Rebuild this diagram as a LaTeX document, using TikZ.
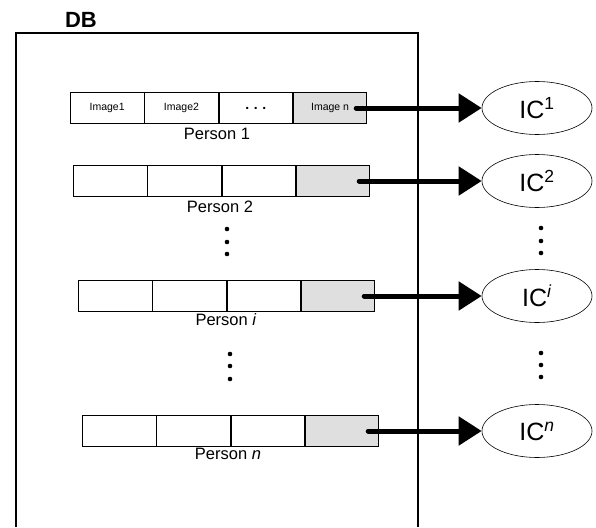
\documentclass[tikz,border=0pt]{standalone}
\usepackage{fontspec}
\setmainfont{Liberation Sans}
\usetikzlibrary{shapes.geometric,arrows.meta}
\begin{document}
\begin{tikzpicture}[x=1pt,y=-1pt,
  cell/.style={draw, line width=0.8pt, minimum width=73.5pt, minimum height=31pt,
    inner sep=0pt, anchor=west, font=\fontsize{10.5}{12}\selectfont},
  shadecell/.style={cell, fill=gray!25},
  plabel/.style={inner sep=0pt, font=\fontsize{16.5}{18}\selectfont},
  ic/.style={draw, ellipse, line width=0.6pt, minimum width=110pt, minimum height=53pt,
    inner sep=0pt, font=\fontsize{25}{27}\selectfont},
  feed/.style={line width=5pt, line cap=round, -{Triangle[length=23pt,width=28pt]}},
  vdot/.style={circle, fill=black, inner sep=0pt, minimum size=4.6pt}
]
\useasboundingbox (0,0) rectangle (596,527);

% DB frame
\draw[line width=1.3pt] (16,527) -- (16,33) -- (418,33) -- (418,527);
\node[inner sep=0pt, font=\bfseries\fontsize{22}{24}\selectfont] (dbl) at (81,20) {DB};

% Person 1
\node[cell] (r1a) at (70,108) {Image1};
\node[cell] (r1b) at (r1a.east) {Image2};
\node[cell, font=\bfseries\fontsize{14}{14}\selectfont] (r1c) at (r1b.east) {.\,\,.\,\,.};
\node[shadecell] (r1d) at (r1c.east) {Image n};
\node[plabel] (p1) at (217,134) {Person 1};

% Person 2
\node[cell] (r2a) at (73,181) {};
\node[cell] (r2b) at (r2a.east) {};
\node[cell] (r2c) at (r2b.east) {};
\node[shadecell] (r2d) at (r2c.east) {};
\node[plabel] (p2) at (220,207) {Person 2};

% Person i
\node[cell] (r3a) at (78,296) {};
\node[cell] (r3b) at (r3a.east) {};
\node[cell] (r3c) at (r3b.east) {};
\node[shadecell] (r3d) at (r3c.east) {};
\node[plabel] (p3) at (226,320) {Person \textit{i}};

% Person n
\node[cell] (r4a) at (82,431) {};
\node[cell] (r4b) at (r4a.east) {};
\node[cell] (r4c) at (r4b.east) {};
\node[shadecell] (r4d) at (r4c.east) {};
\node[plabel] (p4) at (228,454) {Person \textit{n}};

% IC ellipses
\node[ic] (ic1) at (537,108) {IC\textsuperscript{1}};
\node[ic] (ic2) at (537,181) {IC\textsuperscript{2}};
\node[ic] (ic3) at (537,296) {IC\textsuperscript{\textit{i}}};
\node[ic] (ic4) at (537,431) {IC\textsuperscript{\textit{n}}};

% arrows
\draw[feed] ([xshift=-11pt]r1d.east) -- (ic1.west);
\draw[feed] ([xshift=-11pt]r2d.east) -- (ic2.west);
\draw[feed] ([xshift=-11pt]r3d.east) -- (ic3.west);
\draw[feed] ([xshift=-11pt]r4d.east) -- (ic4.west);

% vertical dots
\node[vdot] (la1) at (227,229) {};
\node[vdot] (la2) at (227,242) {};
\node[vdot] (la3) at (227,254) {};
\node[vdot] (lb1) at (230,354) {};
\node[vdot] (lb2) at (230,366) {};
\node[vdot] (lb3) at (230,379) {};
\node[vdot] (ra1) at (541,228) {};
\node[vdot] (ra2) at (541,241) {};
\node[vdot] (ra3) at (541,253) {};
\node[vdot] (rb1) at (541,353) {};
\node[vdot] (rb2) at (541,365) {};
\node[vdot] (rb3) at (541,377) {};
\end{tikzpicture}
\end{document}
